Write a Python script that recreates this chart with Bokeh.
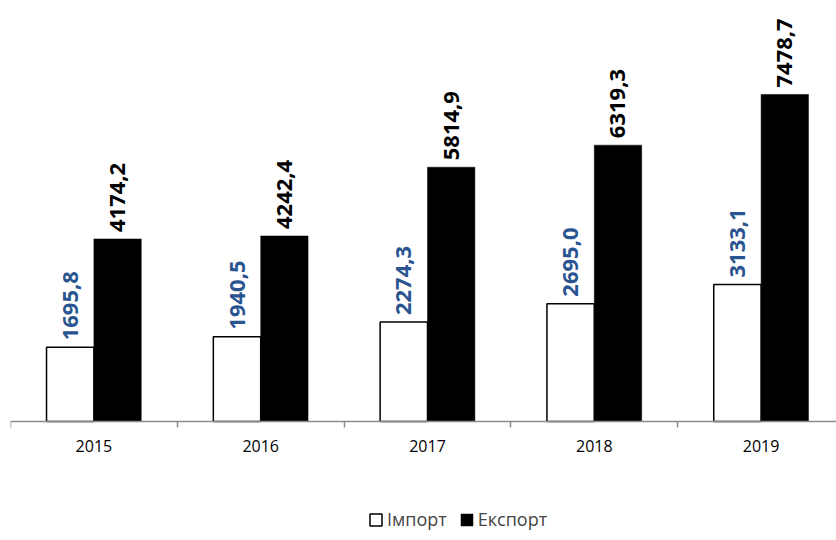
from bokeh.plotting import figure
from bokeh.models import (ColumnDataSource, FixedTicker, Range1d, Legend, LegendItem, LabelSet)
from bokeh.core.properties import value
from bokeh.embed import file_html
from bokeh.resources import INLINE
import math

years = ["2015", "2016", "2017", "2018", "2019"]
imports = [1695.8, 1940.5, 2274.3, 2695.0, 3133.1]
exports = [4174.2, 4242.4, 5814.9, 6319.3, 7478.7]
import_labels = ["1695,8", "1940,5", "2274,3", "2695,0", "3133,1"]
export_labels = ["4174,2", "4242,4", "5814,9", "6319,3", "7478,7"]

idx = list(range(len(years)))
off = 0.142
bw = 0.284

src_i = ColumnDataSource(dict(x=[i - off for i in idx], v=imports, t=import_labels))
src_e = ColumnDataSource(dict(x=[i + off for i in idx], v=exports, t=export_labels))
src_y = ColumnDataSource(dict(x=idx, y=[0] * len(idx), t=years))

p = figure(frame_width=826, frame_height=526, output_backend="svg", toolbar_location=None,
           x_range=Range1d(-0.5, 4.452), y_range=Range1d(-2538, 9490),
           y_axis_location=None, min_border_left=10, min_border_right=0,
           min_border_top=6, min_border_bottom=0)
p.outline_line_color = None
p.xgrid.visible = False
p.ygrid.visible = False
p.background_fill_color = "white"

r_i = p.vbar(x="x", top="v", width=bw, source=src_i, fill_color="white",
             line_color="black", line_width=1.5)
r_e = p.vbar(x="x", top="v", width=bw, source=src_e, fill_color="black",
             line_color="black", line_width=0.5)

font = "Open Sans"
li = LabelSet(x="x", y="v", text="t", source=src_i, angle=math.pi / 2,
              text_align="left", text_baseline="middle", y_offset=7,
              text_font=value(font), text_font_size="22px", text_font_style="bold",
              text_color="#2A5490")
le = LabelSet(x="x", y="v", text="t", source=src_e, angle=math.pi / 2,
              text_align="left", text_baseline="middle", y_offset=7,
              text_font=value(font), text_font_size="22px", text_font_style="bold",
              text_color="black")
ly = LabelSet(x="x", y="y", text="t", source=src_y, text_align="center",
              text_baseline="middle", y_offset=-24, text_font=value(font),
              text_font_size="16px", text_color="black")
p.add_layout(li)
p.add_layout(le)
p.add_layout(ly)

ax = p.xaxis[0]
ax.fixed_location = 0
ax.ticker = FixedTicker(ticks=[], minor_ticks=[i - 0.5 for i in range(len(years) + 1)])
ax.major_label_text_font_size = "0px"
ax.major_label_standoff = 0
ax.major_tick_out = 0
ax.major_tick_in = 0
ax.minor_tick_out = 6
ax.minor_tick_in = 0
ax.minor_tick_line_color = "#8C8C8C"
ax.axis_line_color = "#8C8C8C"
ax.axis_line_width = 1.5
ax.minor_tick_line_width = 1.5

legend = Legend(items=[LegendItem(label="Імпорт", renderers=[r_i]),
                       LegendItem(label="Експорт", renderers=[r_e])],
                location=(358, 1), orientation="horizontal",
                label_text_font=font, label_text_font_size="18px",
                glyph_width=15, glyph_height=15, label_standoff=4, spacing=12,
                padding=0, margin=0, border_line_color=None,
                background_fill_alpha=0)
p.add_layout(legend, "center")

open("out.html", "w").write(file_html(p, INLINE))
